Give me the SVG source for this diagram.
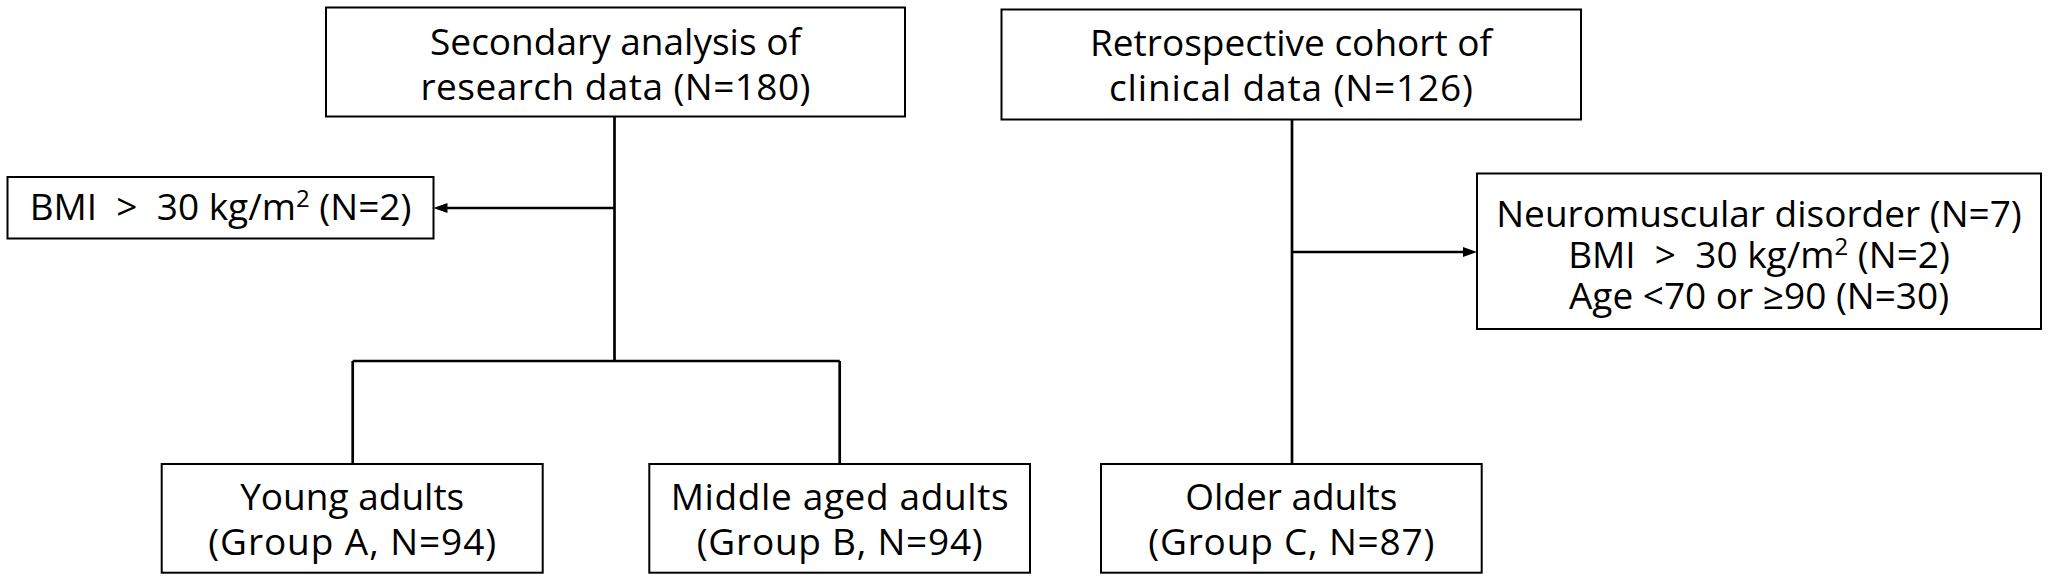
<svg xmlns="http://www.w3.org/2000/svg" width="2050" height="582" viewBox="0 0 2050 582">
<style>
.box{fill:#fff;stroke:#000;stroke-width:2}
.t{font-family:"Open Sans","Noto Sans","Liberation Sans",sans-serif;font-size:37px;fill:#000;text-anchor:middle}
.c{fill:none;stroke:#000;stroke-width:2.7}
</style>
<defs>
<marker id="ah" markerUnits="userSpaceOnUse" markerWidth="14" markerHeight="10" refX="4" refY="5" orient="auto">
<path d="M0,0 L14,5 L0,10 Z" fill="#000"/>
</marker>
</defs>
<rect width="2050" height="582" fill="#fff"/>
<g id="connectors">
<path class="c" d="M614.5,116.7 V361"/>
<path class="c" d="M352.7,361 H839.7"/>
<path class="c" d="M352.7,361 V464"/>
<path class="c" d="M839.7,361 V464"/>
<path class="c" d="M614.5,208 H443.5" marker-end="url(#ah)"/>
<path class="c" d="M1292,119.5 V464"/>
<path class="c" d="M1292,252 H1467" marker-end="url(#ah)"/>
</g>
<g id="secondary">
<rect class="box" x="326" y="7.5" width="579" height="109"/>
<text class="t" x="615.5" y="55">Secondary analysis of</text>
<text class="t" x="615.5" y="100" textLength="390" lengthAdjust="spacing">research data (N=180)</text>
</g>
<g id="retrospective">
<rect class="box" x="1001.5" y="9.5" width="579.5" height="110"/>
<text class="t" x="1291" y="56" textLength="402" lengthAdjust="spacing">Retrospective cohort of</text>
<text class="t" x="1291" y="101" textLength="364" lengthAdjust="spacing">clinical data (N=126)</text>
</g>
<g id="exclusion-left">
<rect class="box" x="7.5" y="177" width="426" height="61.5"/>
<text class="t" x="220.5" y="220">BMI &#160;&gt;&#160; 30 kg/m<tspan font-size="24" dy="-13">2</tspan><tspan dy="13"> (N=2)</tspan></text>
</g>
<g id="exclusion-right">
<rect class="box" x="1477" y="173.5" width="564" height="155.5"/>
<text class="t" x="1759" y="227">Neuromuscular disorder (N=7)</text>
<text class="t" x="1759" y="268">BMI &#160;&gt;&#160; 30 kg/m<tspan font-size="24" dy="-13">2</tspan><tspan dy="13"> (N=2)</tspan></text>
<text class="t" x="1759" y="309">Age &lt;70 or ≥90 (N=30)</text>
</g>
<g id="group-a">
<rect class="box" x="161.7" y="464" width="381" height="108.7"/>
<text class="t" x="352.2" y="510">Young adults</text>
<text class="t" x="352.2" y="555" textLength="288" lengthAdjust="spacing">(Group A, N=94)</text>
</g>
<g id="group-b">
<rect class="box" x="649.3" y="464" width="380.7" height="108.7"/>
<text class="t" x="839.7" y="510" textLength="338" lengthAdjust="spacing">Middle aged adults</text>
<text class="t" x="839.7" y="555" textLength="286" lengthAdjust="spacing">(Group B, N=94)</text>
</g>
<g id="group-c">
<rect class="box" x="1101" y="464" width="380.7" height="108.7"/>
<text class="t" x="1291.3" y="510">Older adults</text>
<text class="t" x="1291.3" y="555" textLength="286" lengthAdjust="spacing">(Group C, N=87)</text>
</g>
</svg>
